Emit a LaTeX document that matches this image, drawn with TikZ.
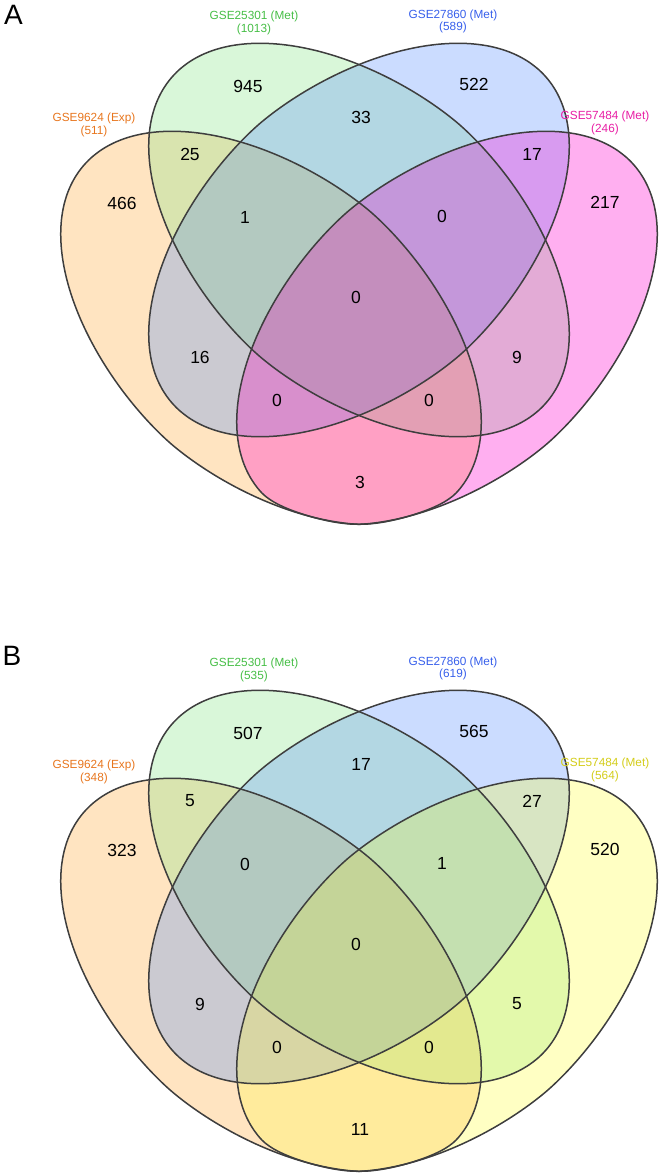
\documentclass[tikz,border=0pt]{standalone}
\usepackage{fontspec}
\setmainfont{Liberation Sans}
% region colours (multiply layer)
\definecolor{fo}{RGB}{255,229,194}
\definecolor{fg}{RGB}{218,248,218}
\definecolor{fb}{RGB}{204,221,255}
\definecolor{fp}{RGB}{255,176,241}
\definecolor{fy}{RGB}{255,255,196}
% colours for the 50% alpha layer
\definecolor{ao}{RGB}{255,203,133}
\definecolor{ag}{RGB}{181,241,181}
\definecolor{ab}{RGB}{153,187,255}
\definecolor{ap}{RGB}{255,97,227}
\definecolor{ay}{RGB}{255,255,137}
% text colours
\definecolor{to}{RGB}{232,118,30}
\definecolor{tg}{RGB}{70,190,70}
\definecolor{tb}{RGB}{55,95,235}
\definecolor{tp}{RGB}{232,30,165}
\definecolor{ty}{RGB}{212,205,25}
\definecolor{vgrey}{RGB}{62,62,62}
\tikzset{
  declare function={
    eggS(\t)=248*cos(\t)*abs(cos(\t))^0.111;
    eggT(\t)=153*sin(\t);
    eggTn(\t)=153*sin(\t)*(1-(sin(\t)<0)*0.27*(max(0,eggS(\t)-190)/58)^2);
  },
  ellO/.style={shift={(271,-328)}, rotate=-41},
  ellG/.style={shift={(359,-240)}, rotate=-41},
  ellB/.style={shift={(359,-240)}, xscale=-1, rotate=-41},
  ellP/.style={shift={(447,-328)}, xscale=-1, rotate=-41},
  vline/.style={draw=vgrey, line width=1.5pt},
  half/.style={fill=#1, fill opacity=0.5},
  num/.style={font=\fontsize{17.5}{20}\selectfont, inner sep=0pt},
  lab/.style={font=\fontsize{11.8}{14}\selectfont, inner sep=0pt, anchor=base, text=#1},
  panel/.style={font=\fontsize{28}{32}\selectfont, inner sep=0pt},
}
% inner shapes (green, blue) and outer shapes (orange, pink) in their own frame
\newcommand\eggin{plot[domain=1:358.5, samples=144, smooth cycle]
  ({eggS(\x)}, {eggT(\x)})}
\newcommand\eggout{plot[domain=1:358.5, samples=144, smooth cycle]
  ({eggS(\x)}, {eggTn(\x)})}
\newcommand\vennshapes[2]{%
  \begin{scope}[blend group=multiply]
  \fill[ellO, fill=fo] \eggout;
  \fill[ellG, fill=fg] \eggin;
  \fill[ellB, fill=fb] \eggin;
  \fill[ellP, fill=#1] \eggout;
  \end{scope}
  \begin{scope}[transparency group, opacity=0.5]
  \fill[white, fill opacity=1] (40,-30) rectangle (675,-540);
  \fill[ellO, half=ao] \eggout;
  \fill[ellG, half=ag] \eggin;
  \fill[ellB, half=ab] \eggin;
  \fill[ellP, half=#2] \eggout;
  \end{scope}
  \draw[ellO, vline] \eggout;
  \draw[ellG, vline] \eggin;
  \draw[ellB, vline] \eggin;
  \draw[ellP, vline] \eggout;
}
\begin{document}
\begin{tikzpicture}[x=1pt,y=1pt]
\useasboundingbox (0,0) rectangle (664,-1175);
% ---------------- Panel A ----------------
\begin{scope}
\vennshapes{fp}{ap}
\node[panel] (aA) at (13.5,-15) {A};
\node[lab=tg] (aLg) at (254,-19.2) {GSE25301 (Met)};
\node[lab=tg] (aCg) at (254,-32.7) {(1013)};
\node[lab=tb] (aLb) at (453,-18.7) {GSE27860 (Met)};
\node[lab=tb] (aCb) at (453,-30.7) {(589)};
\node[lab=to] (aLo) at (94,-121.2) {GSE9624 (Exp)};
\node[lab=to] (aCo) at (94,-134.2) {(511)};
\node[lab=tp] (aLp) at (605,-119.7) {GSE57484 (Met)};
\node[lab=tp] (aCp) at (605,-132.2) {(246)};
\node[num] (a1) at (248,-86) {945};
\node[num] (a2) at (474,-84) {522};
\node[num] (a3) at (361,-117) {33};
\node[num] (a4) at (190,-154) {25};
\node[num] (a5) at (532,-154) {17};
\node[num] (a6) at (122,-203) {466};
\node[num] (a7) at (605,-202) {217};
\node[num] (a8) at (245,-217) {1};
\node[num] (a9) at (442,-216) {0};
\node[num] (a10) at (356,-297) {0};
\node[num] (a11) at (200,-357) {16};
\node[num] (a12) at (517,-357) {9};
\node[num] (a13) at (277,-400) {0};
\node[num] (a14) at (429,-400) {0};
\node[num] (a15) at (360,-482) {3};
\end{scope}
% ---------------- Panel B ----------------
\begin{scope}[yshift=-647pt]
\vennshapes{fy}{ay}
\node[panel] (bB) at (12,-9) {B};
\node[lab=tg] (bLg) at (254,-19.2) {GSE25301 (Met)};
\node[lab=tg] (bCg) at (254,-32.7) {(535)};
\node[lab=tb] (bLb) at (453,-18.7) {GSE27860 (Met)};
\node[lab=tb] (bCb) at (453,-30.7) {(619)};
\node[lab=to] (bLo) at (94,-121.2) {GSE9624 (Exp)};
\node[lab=to] (bCo) at (94,-134.2) {(348)};
\node[lab=ty] (bLp) at (605,-119.7) {GSE57484 (Met)};
\node[lab=ty] (bCp) at (605,-132.2) {(564)};
\node[num] (b1) at (248,-86) {507};
\node[num] (b2) at (474,-84) {565};
\node[num] (b3) at (361,-117) {17};
\node[num] (b4) at (190,-154) {5};
\node[num] (b5) at (532,-154) {27};
\node[num] (b6) at (122,-203) {323};
\node[num] (b7) at (605,-202) {520};
\node[num] (b8) at (245,-217) {0};
\node[num] (b9) at (442,-216) {1};
\node[num] (b10) at (356,-297) {0};
\node[num] (b11) at (200,-357) {9};
\node[num] (b12) at (517,-357) {5};
\node[num] (b13) at (277,-400) {0};
\node[num] (b14) at (429,-400) {0};
\node[num] (b15) at (360,-482) {11};
\end{scope}
\end{tikzpicture}
\end{document}
